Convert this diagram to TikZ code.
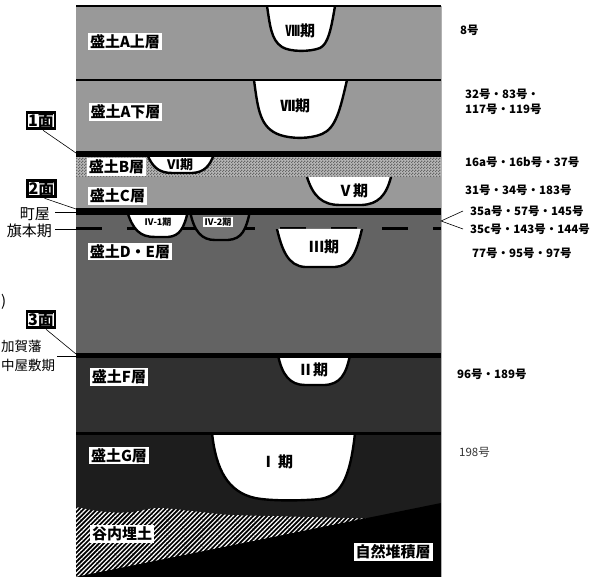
\documentclass[tikz,border=0pt]{standalone}
\usepackage{fontspec}
\newfontfamily\jp{Noto Sans CJK JP}
\usetikzlibrary{patterns,patterns.meta}

\definecolor{soilA}{gray}{0.60}
\definecolor{soilB}{gray}{0.72}
\definecolor{soilDE}{gray}{0.39}
\definecolor{soilF}{gray}{0.19}
\definecolor{soilG}{gray}{0.115}
\definecolor{pitgrey}{gray}{0.45}

% small checker used for the B fill
\tikzdeclarepattern{
  name=finechecker, type=uncolored,
  bounding box={(0pt,0pt) and (3pt,3pt)},
  tile size={(3pt,3pt)},
  code={
    \pgfpathrectangle{\pgfpointorigin}{\pgfqpoint{1.5pt}{1.5pt}}
    \pgfpathrectangle{\pgfqpoint{1.5pt}{1.5pt}}{\pgfqpoint{1.5pt}{1.5pt}}
    \pgfusepath{fill}
  }
}

\tikzset{
  layerlabel/.style={fill=white, text=black, inner xsep=2pt, inner ysep=1.5pt,
    font=\jp\bfseries\fontsize{15}{16}\selectfont},
  pitlabel/.style={inner sep=1pt, font=\jp\bfseries\fontsize{15}{16}\selectfont},
  smallpit/.style={inner sep=1.2pt, font=\jp\bfseries\fontsize{9}{10}\selectfont},
  numlabel/.style={anchor=west, inner sep=0pt, align=left,
    font=\jp\bfseries\fontsize{11.5}{15}\selectfont},
  numplain/.style={anchor=west, inner sep=0pt, text=black!80,
    font=\jp\fontsize{11.5}{15}\selectfont},
  facebox/.style={draw, line width=2.8pt, fill=white, inner sep=1.2pt,
    font=\jp\bfseries\fontsize{16}{17}\selectfont},
  sidelabel/.style={inner sep=0pt, font=\jp\fontsize{15}{16}\selectfont},
  sidesmall/.style={inner sep=0pt, font=\jp\fontsize{13.5}{16}\selectfont},
  pitline/.style={line width=2.4pt, line join=round},
  leader/.style={line width=0.6pt},
}

% fill a pit white (or as given) and draw its open outline
\newcommand\drawpit[2][white]{%
  \fill[#1] #2 -- cycle;
  \draw[pitline] #2;
}

\begin{document}
\begin{tikzpicture}[x=1pt,y=-1pt]
\useasboundingbox (0,0) rectangle (600,577);
\clip (0,0) rectangle (600,577);

% ---- soil layers ----
\fill[soilA] (76,6) rectangle (441,154);
\fill[soilB] (76,154) rectangle (441,177);
\fill[pattern=finechecker, pattern color=black!60] (76,154) rectangle (441,177);
\fill[soilA] (76,177) rectangle (441,211);
\fill[soilDE] (76,211) rectangle (441,356);
\fill[soilF] (76,356) rectangle (441,433);
\fill[soilG] (76,433) rectangle (441,577);

% valley fill, hatched
\path[fill=black, postaction={pattern={Lines[angle=45,distance=3.2pt,line width=1.2pt]}, pattern color=white}]
  (76,507) .. controls (90,510) and (110,514) .. (133,512)
  .. controls (145,510) and (150,508) .. (160,508)
  .. controls (180,509) and (205,513) .. (230,515)
  -- (366,518.5) -- (76,577) -- cycle;

% natural deposit wedge
\fill[black] (76,577) -- (441,503) -- (441,577) -- cycle;

% boundary of the Hatamoto phase
\draw[line width=3pt, dash pattern=on 26pt off 25pt] (76,229) -- (441,229);

% ---- pits ----
\drawpit{(267,6) .. controls (270,25) and (271,40) .. (282,47) .. controls (290,52) and (310,52) .. (320,48) .. controls (328,44) and (331,30) .. (335,6)}
\drawpit{(254,80) .. controls (258,110) and (260,128) .. (280,135) .. controls (292,139) and (310,139) .. (322,134) .. controls (336,128) and (340,110) .. (347,80)}
\drawpit{(147,154) .. controls (152,166) and (158,173) .. (172,173) -- (192,173) .. controls (204,172.5) and (210,166) .. (214,154)}
\drawpit{(307,177) .. controls (313,196) and (322,205) .. (340,205) -- (362,205) .. controls (378,204) and (386,196) .. (391,177)}
\drawpit{(127,211) .. controls (133,230) and (140,237) .. (155,237) -- (168,237) .. controls (180,236) and (184,228) .. (188,211)}
\drawpit[pitgrey]{(190,211) .. controls (194,232) and (202,240) .. (215,240) -- (228,240) .. controls (242,239) and (246,230) .. (250,211)}
\drawpit{(277,229) .. controls (282,250) and (288,266) .. (305,267) -- (335,267) .. controls (350,266) and (356,255) .. (362,229)}
\drawpit{(278,355) .. controls (282,375) and (290,385) .. (305,385) -- (325,385) .. controls (340,384) and (346,375) .. (350,355)}
\drawpit{(212,433) .. controls (216,470) and (228,492) .. (255,498) .. controls (270,501) and (300,501) .. (320,499) .. controls (340,496) and (350,480) .. (355,433)}

% ---- surfaces ----
\draw[line width=2.5pt] (76,6) -- (441,6);
\draw[line width=2.5pt] (76,80) -- (441,80);
\draw[line width=6pt] (76,154) -- (441,154);
\draw[line width=6.5pt] (76,211.5) -- (441,211.5);
\draw[line width=5pt] (76,355.5) -- (441,355.5);
\draw[line width=2.5pt] (76,433.5) -- (441,433.5);
\draw[gray!60, line width=0.8pt] (441,6) -- (441,577);

% ---- layer names ----
\node[layerlabel] (lA1) at (125,41.5) {盛土A上層};
\node[layerlabel] (lA2) at (125.5,112) {盛土A下層};
\node[layerlabel] (lB) at (116.5,167) {盛土B層};
\node[layerlabel] (lC) at (117.5,196) {盛土C層};
\node[layerlabel] (lDE) at (130,251.5) {盛土D・E層};
\node[layerlabel] (lF) at (119,377) {盛土F層};
\node[layerlabel] (lG) at (119,455.5) {盛土G層};
\node[layerlabel] (lV) at (122,534) {谷内埋土};
\node[layerlabel] (lN) at (393,552) {自然堆積層};

% ---- pit names ----
\node[pitlabel] (p8) at (300,31) {Ⅷ期};
\node[pitlabel] (p7) at (295,106) {Ⅶ期};
\node[pitlabel, font=\jp\bfseries\fontsize{13}{14}\selectfont] (p6) at (180,164.5) {Ⅵ期};
\node[pitlabel] (p5) at (353,191) {Ⅴ期};
\node[smallpit] (p41) at (158,222) {Ⅳ-1期};
\node[smallpit, fill=white] (p42) at (218,222) {Ⅳ-2期};
\node[pitlabel] (p3) at (324,247) {Ⅲ期};
\node[pitlabel] (p2) at (313,370) {Ⅱ期};
\node[pitlabel] (p1) at (277,462) {Ⅰ\,期};

% ---- feature numbers ----
\node[numlabel] (r8) at (460,30) {8号};
\node[numlabel] (r7) at (465,101.5) {32号・83号・\\117号・119号};
\node[numlabel] (r6) at (465,162) {16a号・16b号・37号};
\node[numlabel] (r5) at (465,190) {31号・34号・183号};
\node[numlabel] (r4a) at (470,211) {35a号・57号・145号};
\node[numlabel] (r4b) at (470,229) {35c号・143号・144号};
\node[numlabel] (r3) at (472,253) {77号・95号・97号};
\node[numlabel] (r2) at (457,374) {96号・189号};
\node[numplain] (r1) at (459,452) {198号};
\coordinate (fork) at (441,221);
\draw[leader] ([xshift=-7pt]r4a.west) -- (fork) -- ([xshift=-7pt]r4b.west);

% ---- surfaces and periods on the left ----
\node[facebox] (f1) at (41,120.5) {1面};
\node[facebox] (f2) at (41.5,188.5) {2面};
\node[facebox] (f3) at (41,319.5) {3面};
\coordinate (e1) at (76,153);
\coordinate (e2) at (76,209);
\coordinate (e3) at (76,354);
\draw[leader] ([xshift=2pt]f1.south) -- (e1);
\draw[leader] ([xshift=3pt]f2.south) -- (e2);
\draw[leader] ([xshift=5pt]f3.south) -- (e3);

\node[sidelabel, anchor=east] (machiya) at (50,214) {町屋};
\node[sidelabel, anchor=east] (hatamoto) at (52,231) {旗本期};
\coordinate (m1) at (76,212);
\coordinate (h1) at (76,229);
\draw[leader] ([xshift=5pt]machiya.east |- m1) -- (m1);
\draw[leader] ([xshift=3pt]hatamoto.east |- h1) -- (h1);

\node[sidelabel, anchor=west] (paren) at (1,302) {)};
\node[sidesmall, anchor=west] (kaga1) at (1,346.5) {加賀藩};
\node[sidesmall, anchor=west] (kaga2) at (1,365) {中屋敷期};
\coordinate (k1) at (76,356);
\draw[leader] ([xshift=2pt]kaga2.north east |- k1) -- (k1);
\end{tikzpicture}
\end{document}
